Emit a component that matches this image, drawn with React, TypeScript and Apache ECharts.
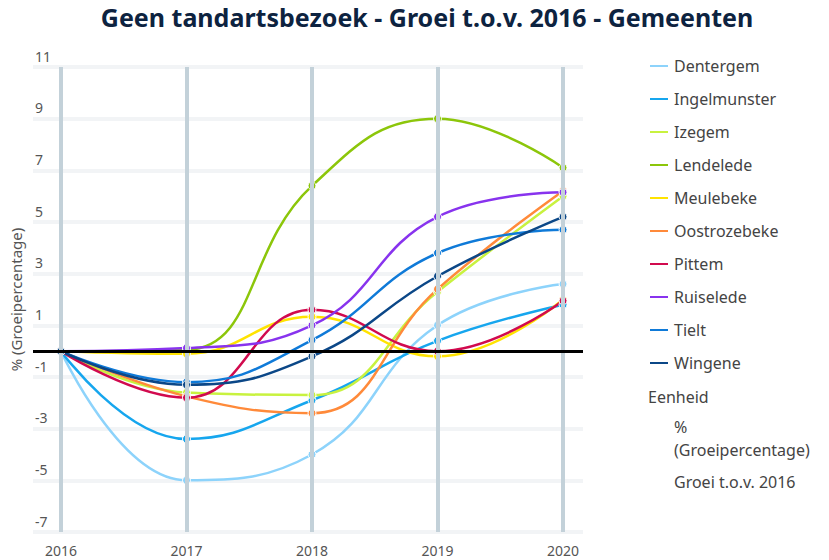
import React, { useEffect, useRef } from "react";
import * as echarts from "echarts";

const years = [2016, 2017, 2018, 2019, 2020];
const names = ["Dentergem", "Ingelmunster", "Izegem", "Lendelede", "Meulebeke", "Oostrozebeke", "Pittem", "Ruiselede", "Tielt", "Wingene"];
const colors = ["#8dd3fb", "#16a6ee", "#c8f23f", "#8cc60a", "#ffe300", "#ff8a3a", "#d10a4e", "#8833ee", "#0f7ad8", "#0b4787"];
const dentergem = [0, -5.0, -4.0, 1.0, 2.6];
const ingelmunster = [0, -3.4, -1.9, 0.4, 1.8];
const izegem = [0, -1.6, -1.7, 2.3, 6.0];
const lendelede = [0, 0.05, 6.4, 9.0, 7.1];
const meulebeke = [0, -0.1, 1.33, -0.2, 2.0];
const oostrozebeke = [0, -1.75, -2.4, 2.4, 6.2];
const pittem = [0, -1.8, 1.6, 0.0, 1.95];
const ruiselede = [0, 0.12, 1.0, 5.2, 6.15];
const tielt = [0, -1.2, 0.43, 3.8, 4.7];
const wingene = [0, -1.3, -0.2, 2.9, 5.2];
const values = [dentergem, ingelmunster, izegem, lendelede, meulebeke, oostrozebeke, pittem, ruiselede, tielt, wingene];
const yTicks = { min: -7, max: 11, step: 2 };
const title = "Geen tandartsbezoek - Groei t.o.v. 2016 - Gemeenten";
const unitLabel = "Eenheid";
const unitLines = ["%", "(Groeipercentage)", "Groei t.o.v. 2016"];
const yName = "% (Groeipercentage)";

const FONT = "'Noto Sans', sans-serif";

export default function App() {
  const ref = useRef<HTMLDivElement>(null);
  useEffect(() => {
    document.body.style.margin = "0";
    if (!ref.current) return;
    const chart = echarts.init(ref.current, undefined, { renderer: "svg" });
    const dataSeries = names.map((n, i) => ({
      name: n,
      type: "line",
      smooth: 0.45,
      z: 3,
      data: years.map((y, j) => [y, values[i][j]]),
      symbol: "circle",
      symbolSize: 8,
      showSymbol: true,
      lineStyle: { color: colors[i], width: 2.5 },
      itemStyle: { color: colors[i], borderColor: "#fff", borderWidth: 1 },
    }));
    const unitText = (text: string, left: number, top: number) => ({
      type: "text",
      left,
      top,
      style: { text, fontSize: 16, lineHeight: 16, fill: "#444", fontFamily: FONT },
    });
    chart.setOption({
      animation: false,
      textStyle: { fontFamily: FONT },
      title: {
        text: title,
        left: 427,
        textAlign: "center",
        top: 4,
        padding: 0,
        textStyle: { fontFamily: FONT, fontSize: 25, fontWeight: "bold", color: "#0d2340" },
      },
      grid: { left: 32, right: 246, top: 67, bottom: 28, containLabel: false },
      xAxis: {
        type: "value",
        min: 2016 - 28 / 125.75,
        max: 2020 + 20 / 125.75,
        minInterval: 1,
        maxInterval: 1,
        showMinLabel: false,
        showMaxLabel: false,
        axisLine: { show: false },
        axisTick: { show: false },
        splitLine: { show: false },
        axisLabel: {
          color: "#555",
          fontSize: 14,
          margin: 11,
          formatter: (v: number) => (Number.isInteger(v) ? String(v) : ""),
        },
      },
      yAxis: {
        type: "value",
        min: yTicks.min,
        max: yTicks.max,
        interval: yTicks.step,
        name: yName,
        nameLocation: "middle",
        nameGap: 10,
        nameRotate: 90,
        nameTextStyle: { color: "#555", fontSize: 15 },
        axisLine: { show: false },
        axisTick: { show: false },
        splitLine: { show: true, lineStyle: { color: "#f2f4f6", width: 4 } },
        axisLabel: {
          color: "#555",
          fontSize: 14,
          align: "left",
          verticalAlign: "bottom",
          margin: -2,
          padding: [0, 0, 4, 0],
        },
      },
      legend: {
        orient: "vertical",
        left: 648,
        top: 58,
        padding: 0,
        itemGap: 17,
        itemWidth: 20,
        itemHeight: 4,
        icon: "rect",
        data: names,
        textStyle: { fontSize: 16, color: "#444", fontFamily: FONT },
      },
      graphic: [
        unitText(unitLabel, 648, 389),
        unitText(unitLines[0], 674, 419),
        unitText(unitLines[1], 674, 442),
        unitText(unitLines[2], 674, 474),
      ],
      series: [
        {
          name: "_grid",
          type: "line",
          z: 1,
          data: [[2016, 0]],
          symbol: "none",
          lineStyle: { opacity: 0 },
          silent: true,
          markLine: {
            silent: true,
            symbol: "none",
            label: { show: false },
            lineStyle: { color: "#c3d1d9", width: 4, type: "solid" },
            data: years.map((y) => ({ xAxis: y })),
          },
        },
        {
          name: "_zero",
          type: "line",
          z: 2,
          data: [[2016, 0]],
          symbol: "none",
          lineStyle: { opacity: 0 },
          silent: true,
          markLine: {
            silent: true,
            symbol: "none",
            label: { show: false },
            lineStyle: { color: "#000", width: 3, type: "solid" },
            data: [{ yAxis: 0 }],
          },
        },
        ...dataSeries,
      ],
    });
    return () => chart.dispose();
  }, []);
  return <div ref={ref} style={{ width: 829, height: 560 }} />;
}
